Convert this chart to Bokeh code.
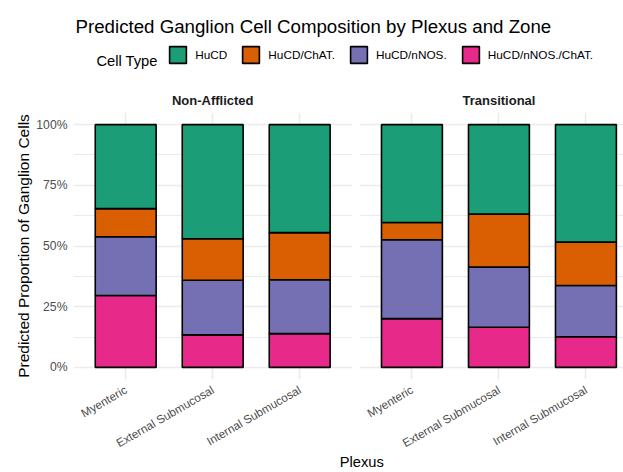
import math
from bokeh.plotting import figure
from bokeh.layouts import column
from bokeh.models import (ColumnDataSource, Range1d, FixedTicker, NumeralTickFormatter,
                          Legend, LegendItem, Label, BoxAnnotation, LinearAxis)
from bokeh.embed import file_html
from bokeh.resources import INLINE

# ---------------- data ----------------
zone_names = ["Non-Afflicted", "Transitional"]
plexus_names = ["Myenteric", "External Submucosal", "Internal Submucosal"]
cell_types = ["HuCD", "HuCD/ChAT.", "HuCD/nNOS.", "HuCD/nNOS./ChAT."]
cell_colors = ["#1B9E77", "#D95F02", "#7570B3", "#E7298A"]

zone = ["Non-Afflicted", "Non-Afflicted", "Non-Afflicted",
        "Transitional", "Transitional", "Transitional"]
plexus = ["Myenteric", "External Submucosal", "Internal Submucosal",
          "Myenteric", "External Submucosal", "Internal Submucosal"]
# predicted proportions (%)
hucd = [34.6, 47.0, 44.5, 40.3, 36.8, 48.4]
hucd_chat = [11.6, 17.1, 19.4, 7.1, 21.9, 17.9]
hucd_nnos = [24.2, 22.5, 22.2, 32.5, 24.8, 21.1]
hucd_nnos_chat = [29.6, 13.4, 13.9, 20.1, 16.5, 12.6]

y_ticks = [0, 0.25, 0.5, 0.75, 1.0]
y_minor = [0.125, 0.375, 0.625, 0.875]

# ---------------- layout helpers ----------------
PANEL_SHIFT = 3.29          # distance between facet panels in category units
PANEL_EXPAND = 0.6          # discrete expansion on each side of a panel
FONT = "Liberation Sans"
W = 623
LEFT = 73
HEAD_H, MAIN_H = 112, 360
PX_X = 87                   # pixels per category unit

xs = [plexus_names.index(pl) + 1 + zone_names.index(z) * PANEL_SHIFT
      for z, pl in zip(zone, plexus)]

src = ColumnDataSource(dict(
    x=xs,
    hucd=[v / 100 for v in hucd],
    chat=[v / 100 for v in hucd_chat],
    nnos=[v / 100 for v in hucd_nnos],
    nnos_chat=[v / 100 for v in hucd_nnos_chat],
))

x_range = Range1d(0.4, 0.4 + (W - LEFT) / PX_X)

# ---------------- header: title, legend, strip labels ----------------
head = figure(width=W, height=HEAD_H, output_backend="svg", toolbar_location=None,
              x_range=x_range, y_range=Range1d(0, HEAD_H), min_border_left=LEFT,
              min_border_right=0, min_border_top=0, min_border_bottom=0, title=None,
              x_axis_type=None, y_axis_type=None)
head.outline_line_color = None
head.border_fill_color = "white"

head.add_layout(Label(x=0.423, y=HEAD_H - 26,
                      text="Predicted Ganglion Cell Composition by Plexus and Zone",
                      text_font=FONT, text_font_size="18.7px", text_color="black",
                      text_align="left", text_baseline="alphabetic"))
head.add_layout(Label(x=0.664, y=HEAD_H - 60, text="Cell Type",
                      text_font=FONT, text_font_size="14.7px", text_color="black",
                      text_align="left", text_baseline="alphabetic"))
for i, zn in enumerate(zone_names):
    head.add_layout(Label(x=2 + i * PANEL_SHIFT, y=HEAD_H - 100, text=zn,
                          text_font=FONT, text_font_size="13px", text_font_style="bold",
                          text_color="#1A1A1A", text_align="center", text_baseline="middle"))
nan = float("nan")
key_renderers = [head.vbar(x=[nan], top=[nan], width=0.7, fill_color=c, line_color="black",
                           line_width=1.6) for c in cell_colors]
GLYPH = 21      # legend swatch is drawn at 80% of this box -> ~17 px square
legend = Legend(items=[LegendItem(label=ct, renderers=[r])
                       for ct, r in zip(cell_types, key_renderers)],
                orientation="horizontal", location=(167.2 - LEFT, HEAD_H - 65.4),
                glyph_width=GLYPH, glyph_height=GLYPH, label_height=GLYPH, label_width=0,
                label_standoff=7, spacing=13, padding=0, margin=0,
                border_line_color=None, background_fill_alpha=0,
                label_text_font=FONT, label_text_font_size="11.8px",
                label_text_color="black")
head.add_layout(legend, "center")

# ---------------- main panel ----------------
p = figure(width=W, height=MAIN_H, output_backend="svg", toolbar_location=None,
           x_range=x_range, y_range=Range1d(-0.05, 1.05),
           min_border_left=LEFT, min_border_right=0, min_border_top=0,
           min_border_bottom=92, title=None)
p.outline_line_color = None
p.background_fill_color = "white"
p.border_fill_color = "white"

stack_keys = ["nnos_chat", "nnos", "chat", "hucd"]
stack_cols = [cell_colors[3], cell_colors[2], cell_colors[1], cell_colors[0]]
p.vbar_stack(stack_keys, x="x", width=0.7, source=src,
             fill_color=stack_cols, line_color="black", line_width=1.6)

gap = BoxAnnotation(left=3 + PANEL_EXPAND, right=1 + PANEL_SHIFT - PANEL_EXPAND,
                    fill_color="white", fill_alpha=1.0, line_alpha=0, level="underlay")
p.add_layout(gap)

xa = p.xaxis[0]
xa.ticker = FixedTicker(ticks=xs)
xa.major_label_overrides = {x: pl for x, pl in zip(xs, plexus)}
xa.major_label_orientation = math.pi / 6
xa.axis_line_color = None
xa.major_tick_line_color = None
xa.minor_tick_line_color = None
xa.major_tick_out = 0
xa.minor_tick_out = 0
xa.major_label_standoff = 9
xa.major_label_text_font = FONT
xa.major_label_text_font_size = "11.7px"
xa.major_label_text_color = "#4D4D4D"

# x-axis title: a second below axis with one labelled tick, centred like the reference
title_x = 0.4 + (361.3 - LEFT) / PX_X
xt = LinearAxis(ticker=FixedTicker(ticks=[title_x]),
                major_label_overrides={title_x: "Plexus"},
                axis_line_color=None, major_tick_line_color=None,
                minor_tick_line_color=None, major_tick_out=0, minor_tick_out=0,
                major_tick_in=0, minor_tick_in=0,
                major_label_standoff=-4, major_label_text_font=FONT,
                major_label_text_font_size="14.7px", major_label_text_color="black")
p.add_layout(xt, "below")

ya = p.yaxis[0]
ya.ticker = FixedTicker(ticks=y_ticks, minor_ticks=y_minor)
ya.formatter = NumeralTickFormatter(format="0%")
ya.axis_line_color = None
ya.major_tick_line_color = None
ya.minor_tick_line_color = None
ya.major_tick_out = 0
ya.minor_tick_out = 0
ya.major_label_standoff = 6
ya.major_label_text_font = FONT
ya.major_label_text_font_size = "12.2px"
ya.major_label_text_color = "#4D4D4D"
ya.axis_label = "Predicted Proportion of Ganglion Cells"
ya.axis_label_text_font = FONT
ya.axis_label_text_font_size = "15.5px"
ya.axis_label_text_font_style = "normal"
ya.axis_label_text_color = "black"
ya.axis_label_standoff = 1

p.xgrid.grid_line_color = "#EBEBEB"
p.xgrid.grid_line_width = 1.5
p.ygrid.grid_line_color = "#EBEBEB"
p.ygrid.grid_line_width = 1.5
p.ygrid.minor_grid_line_color = "#EBEBEB"
p.ygrid.minor_grid_line_width = 1.0

layout = column(head, p, spacing=0)
open("out.html", "w").write(file_html(layout, INLINE))
